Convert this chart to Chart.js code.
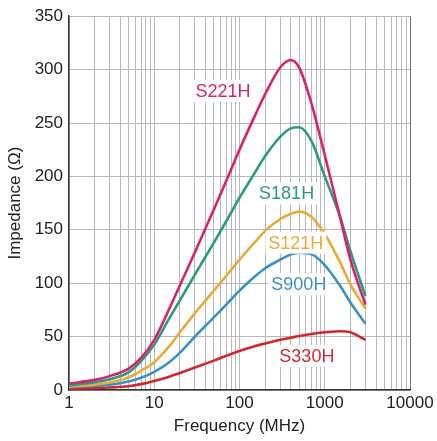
<!DOCTYPE html>
<html>
<head>
<meta charset="utf-8">
<script src="https://cdn.jsdelivr.net/npm/chart.js@4/dist/chart.umd.min.js"></script>
<style>
html, body { margin: 0; padding: 0; background: #fff; }
</style>
</head>
<body>
<canvas id="impedanceChart" width="437" height="441"></canvas>
<script>
// Frequency points (MHz)
const freqs = [1, 2, 3, 5, 7, 10, 15, 20, 30, 50, 70, 100, 150, 200, 300, 400, 500, 700, 1000, 1500, 2000, 3000];

// Impedance (Ohm) for each part
const s221h = [6, 9.5, 13, 20, 30, 47, 76, 98, 129, 169, 196, 225, 256, 277, 302, 309, 302, 268, 220, 163, 122, 80];
const s181h = [4.3, 7.4, 10, 16.5, 27, 42.5, 67, 84, 108, 138, 158, 180, 203, 219, 237, 245, 246, 233, 200, 163, 130, 88];
const s121h = [3.2, 5, 7, 12, 18, 26, 41, 54, 72, 93, 107, 122, 138, 149, 160, 165, 167, 162, 146, 120, 99, 76];
const s900h = [2.8, 3.7, 5, 8, 11.5, 17, 26, 35, 50, 68, 80, 93, 106, 114, 122, 127, 128.5, 127, 117, 98, 82, 62];
const s330h = [1.2, 1.8, 2.3, 3.5, 5.5, 8.5, 12.5, 16, 21, 27.5, 32, 36.5, 41, 43.5, 47, 49, 50.5, 52.5, 54, 55, 54, 47];

const seriesNames = ['S221H', 'S181H', 'S121H', 'S900H', 'S330H'];
const seriesValues = [s221h, s181h, s121h, s900h, s330h];
const seriesColors = ['#d7226f', '#2b9a7f', '#e9aa3a', '#3a8fc9', '#d1282f'];

// where the part names sit (frequency, impedance)
const labelFreq = [64, 357, 458, 497, 617];
const labelValue = [280, 184, 138, 99, 32];

// axis ticks
const xTickLabels = [1, 10, 100, 1000, 10000];
const yTicks = [0, 50, 100, 150, 200, 250, 300, 350];

const fontFamily = '"Liberation Sans", Arial, Helvetica, sans-serif';

// part names with white boxes
const curveLabels = {
    id: 'curveLabels',
    afterDatasetsDraw(chart) {
        const { ctx, scales: { x, y } } = chart;
        ctx.save();
        ctx.font = '18px ' + fontFamily;
        ctx.textAlign = 'center';
        ctx.textBaseline = 'middle';
        seriesNames.forEach((name, i) => {
            const px = x.getPixelForValue(labelFreq[i]);
            const py = y.getPixelForValue(labelValue[i]);
            const w = ctx.measureText(name).width;
            ctx.fillStyle = '#fff';
            ctx.fillRect(px - w / 2 - 3, py - 11, w + 6, 22);
            ctx.fillStyle = seriesColors[i];
            ctx.fillText(name, px, py + 1);
        });
        ctx.restore();
    }
};

function initializeChart() {
    const ctx = document.getElementById('impedanceChart').getContext('2d');
    new Chart(ctx, {
        type: 'line',
        data: {
            datasets: seriesNames.map((name, i) => ({
                label: name,
                data: freqs.map((f, j) => ({ x: f, y: seriesValues[i][j] })),
                borderColor: seriesColors[i],
                borderWidth: 2.6,
                pointRadius: 0,
                cubicInterpolationMode: 'monotone',
                fill: false
            }))
        },
        options: {
            responsive: false,
            animation: false,
            devicePixelRatio: 1,
            layout: { padding: { top: 12, right: 27, left: 0, bottom: 0 } },
            plugins: {
                legend: { display: false },
                tooltip: { enabled: false }
            },
            scales: {
                x: {
                    type: 'logarithmic',
                    min: 1,
                    max: 10000,
                    afterBuildTicks(scale) {
                        const ticks = [];
                        for (let d = 1; d < 10000; d *= 10) {
                            for (let m = 1; m < 10; m++) ticks.push({ value: m * d });
                        }
                        ticks.push({ value: 10000 });
                        scale.ticks = ticks;
                    },
                    afterFit(scale) { scale.height = 51; },
                    grid: {
                        color: ctx => ctx.tick && ctx.tick.value === 10000 ? '#777' : '#b8b8b8',
                        lineWidth: 1,
                        drawTicks: false
                    },
                    border: { color: '#333', width: 1.5 },
                    ticks: {
                        autoSkip: false,
                        maxRotation: 0,
                        padding: 3,
                        color: '#222',
                        font: { family: fontFamily, size: 17 },
                        callback: value => xTickLabels.includes(value) ? String(value) : ''
                    },
                    title: {
                        display: true,
                        text: 'Frequency (MHz)',
                        color: '#222',
                        padding: { top: 0, bottom: 4 },
                        font: { family: fontFamily, size: 17 }
                    }
                },
                y: {
                    min: 0,
                    max: 350,
                    afterBuildTicks(scale) {
                        scale.ticks = yTicks.map(v => ({ value: v }));
                    },
                    afterFit(scale) { scale.width = 69; },
                    grid: { color: '#b8b8b8', lineWidth: 1, drawTicks: false },
                    border: { color: '#333', width: 1.5 },
                    ticks: {
                        padding: 6,
                        color: '#222',
                        font: { family: fontFamily, size: 17 }
                    },
                    title: {
                        display: true,
                        text: 'Impedance (Ω)',
                        color: '#222',
                        padding: { top: 5, bottom: 0 },
                        font: { family: fontFamily, size: 17 }
                    }
                }
            }
        },
        plugins: [curveLabels]
    });
}

document.addEventListener('DOMContentLoaded', initializeChart);
</script>
</body>
</html>
